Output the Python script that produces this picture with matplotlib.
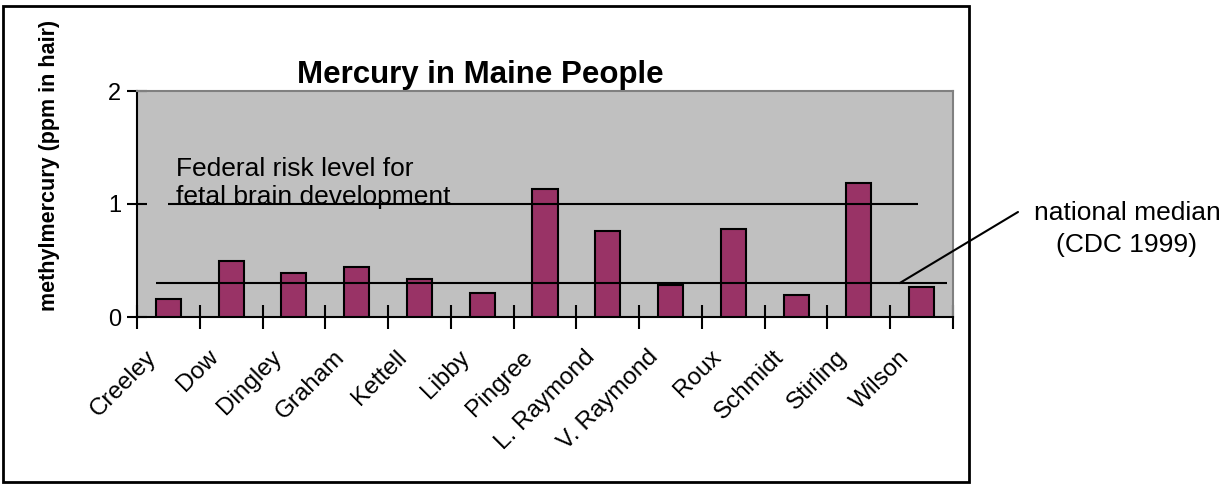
import matplotlib
matplotlib.use("Agg")
import matplotlib.pyplot as plt
from matplotlib.patches import Rectangle
from matplotlib.transforms import ScaledTranslation

plt.rcParams["font.family"] = ["Liberation Sans", "DejaVu Sans"]

# people and methylmercury in hair (ppm)
names = ["Creeley", "Dow", "Dingley", "Graham", "Kettell", "Libby", "Pingree",
         "L. Raymond", "V. Raymond", "Roux", "Schmidt", "Stirling", "Wilson"]
mercury = [0.16, 0.50, 0.39, 0.44, 0.34, 0.215, 1.13,
           0.76, 0.28, 0.78, 0.195, 1.19, 0.265]
federal_risk = 1.0
national_median = 0.3

W, H = 1231, 486
fig = plt.figure(figsize=(W / 100, H / 100), dpi=100)
ax = fig.add_axes([137 / W, 1 - 317 / H, 816 / W, 226 / H])
ax.set_facecolor("#c0c0c0")

x = list(range(len(names)))
ax.bar(x, mercury, width=0.4, color="#993366", edgecolor="black", linewidth=1.5, zorder=3)

# reference lines
ax.hlines(federal_risk, -0.01, 11.95, colors="black", linewidth=1.5, zorder=4)
ax.hlines(national_median, -0.2, 12.4, colors="black", linewidth=1.5, zorder=4)

ax.text(0.12, federal_risk, "Federal risk level for\nfetal brain development",
        fontsize=19, ha="left", va="baseline", linespacing=1.2, zorder=5)

ax.annotate("", xy=(11.65, national_median), xycoords="data",
            xytext=(1018 / W, 1 - 212 / H), textcoords="figure fraction",
            arrowprops=dict(arrowstyle="-", color="black", linewidth=1.5,
                            shrinkA=0, shrinkB=0),
            annotation_clip=False)
fig.text(1127 / W, 1 - 213 / H, "national median", fontsize=19, ha="center", va="center")
fig.text(1127 / W, 1 - 245 / H, "(CDC 1999)", fontsize=19, ha="center", va="center")

ax.set_xlim(-0.5, len(names) - 0.5)
ax.set_ylim(0, 2)
ax.set_yticks([0, 1, 2])
ax.tick_params(axis="y", direction="inout", length=15, width=1.5, labelsize=17, pad=4)

# category boundaries get ticks, centres get labels
ax.set_xticks([i - 0.5 for i in range(len(names) + 1)])
ax.set_xticklabels([])
ax.set_xticks(x, names, minor=True)
ax.tick_params(axis="x", which="major", direction="inout", length=17, width=1.5)
ax.tick_params(axis="x", which="minor", length=0, labelsize=17.5, pad=21)
for lab in ax.get_xticklabels(minor=True):
    lab.set_rotation(45)
    lab.set_ha("right")
    lab.set_va("top")
    lab.set_transform(lab.get_transform() + ScaledTranslation(-0.08, 0, fig.dpi_scale_trans))

for s in ["left", "bottom"]:
    ax.spines[s].set_color("black")
    ax.spines[s].set_linewidth(1.5)
for s in ["top", "right"]:
    ax.spines[s].set_color("#808080")
    ax.spines[s].set_linewidth(1.5)

fig.text(480 / W, 1 - 75 / H, "Mercury in Maine People", fontsize=22.5,
         fontweight="bold", ha="center", va="center")
fig.text(50 / W, 1 - 165 / H, "methylmercury (ppm in hair)", fontsize=15.5,
         fontweight="bold", rotation=90, ha="center", va="center")

# chart frame
fig.add_artist(Rectangle((3 / W, 1 - 482 / H), 966 / W, 476 / H,
                         transform=fig.transFigure, fill=False,
                         edgecolor="black", linewidth=2))

fig.savefig("out.png", dpi=100)
